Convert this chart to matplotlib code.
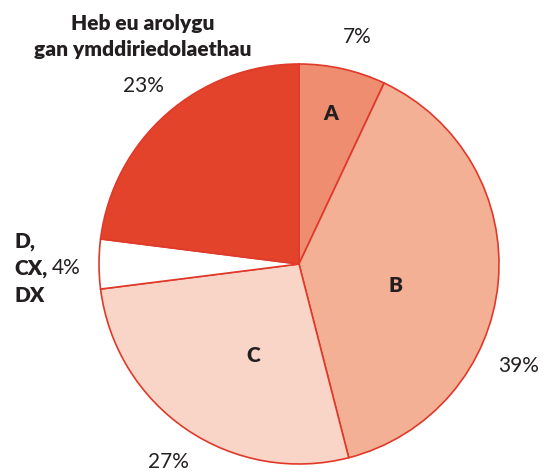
import matplotlib.pyplot as plt

# slice data, clockwise from 12 o'clock
slices = ['A', 'B', 'C', 'D, CX, DX', 'Heb eu arolygu gan ymddiriedolaethau']
shares = [7, 39, 27, 4, 23]
colors = ['#EE8D6F', '#F3B095', '#F8D5C7', '#FFFFFF', '#E4432B']

plt.rcParams['font.family'] = ['Lato', 'DejaVu Sans']
TXT = '#231F20'
FS = 15

fig = plt.figure(figsize=(5.52, 4.73), dpi=100)
ax = fig.add_axes([0, 0, 1, 1])

H = 473
ax.pie(shares, colors=colors, startangle=90, counterclock=False,
       center=(299, H - 264), radius=200, frame=True,
       wedgeprops=dict(edgecolor='#E0392A', linewidth=1.2))
ax.set_xlim(0, 552)
ax.set_ylim(0, 473)
ax.set_aspect('equal')
ax.axis('off')

bold = dict(fontsize=FS, fontweight='heavy', color=TXT)
reg = dict(fontsize=FS, color=TXT)

# labels inside the slices
ax.text(331, H - 114, 'A', ha='center', va='center', **bold)
ax.text(396, H - 285, 'B', ha='center', va='center', **bold)
ax.text(253, H - 356, 'C', ha='center', va='center', **bold)

# percentages outside
ax.text(357, H - 37, '7%', ha='center', va='center', **reg)
ax.text(519, H - 366, '39%', ha='center', va='center', **reg)
ax.text(168, H - 462, '27%', ha='center', va='center', **reg)
ax.text(143, H - 86, '23%', ha='center', va='center', **reg)

ax.text(143, H - 24, 'Heb eu arolygu', ha='center', va='center', **bold)
ax.text(143, H - 50, 'gan ymddiriedolaethau', ha='center', va='center', **bold)

ax.text(14, H - 242, 'D,', ha='left', va='center', **bold)
t = ax.text(14, H - 268, 'CX,', ha='left', va='center', **bold)
ax.annotate('4%', xy=(1, 0.5), xycoords=t, xytext=(3, 0), textcoords='offset points',
            ha='left', va='center', **reg)
ax.text(14, H - 295, 'DX', ha='left', va='center', **bold)

fig.savefig('out.png', dpi=100)
